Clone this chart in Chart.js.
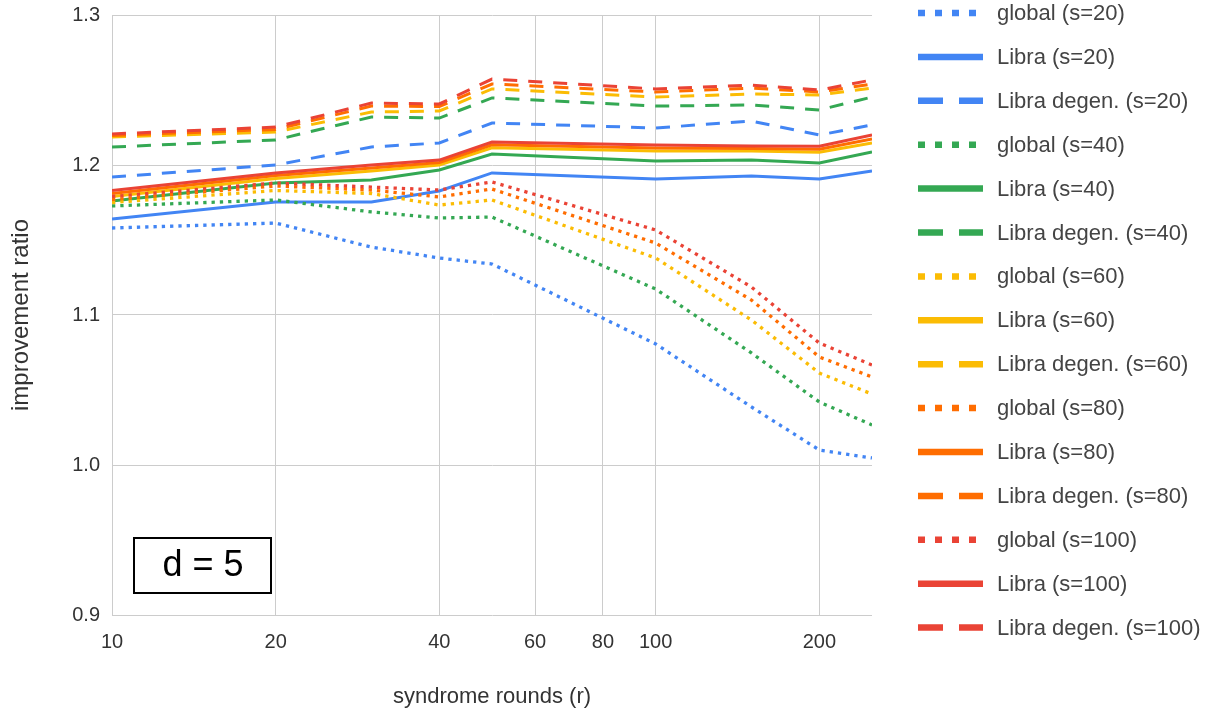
<!DOCTYPE html>
<html>
<head>
<meta charset="utf-8">
<script src="https://cdn.jsdelivr.net/npm/chart.js@4.4.1/dist/chart.umd.min.js"></script>
<style>
  body { margin: 0; background: #fff; }
</style>
</head>
<body>
<canvas id="graph" width="1215" height="714"></canvas>
<script>
const rounds = [10, 20, 30, 40, 50, 100, 150, 200, 250]
const xTicks = [10, 20, 40, 60, 80, 100, 200]

const globalS20 = [1.158, 1.1613, 1.1453, 1.138, 1.1340, 1.0807, 1.0387, 1.010, 1.0047]
const libraS20 = [1.164, 1.1753, 1.1753, 1.1827, 1.1947, 1.1907, 1.1927, 1.1907, 1.196]
const degenS20 = [1.192, 1.200, 1.212, 1.2147, 1.228, 1.2247, 1.2293, 1.220, 1.2267]

const globalS40 = [1.1727, 1.1767, 1.1687, 1.1647, 1.1653, 1.1173, 1.0747, 1.042, 1.0267]
const libraS40 = [1.176, 1.188, 1.190, 1.1967, 1.2073, 1.2027, 1.2033, 1.2013, 1.2087]
const degenS40 = [1.212, 1.2167, 1.232, 1.2313, 1.2447, 1.2393, 1.240, 1.2367, 1.2453]

const globalS60 = [1.175, 1.183, 1.181, 1.1733, 1.1767, 1.138, 1.0967, 1.0613, 1.0473]
const libraS60 = [1.179, 1.191, 1.196, 1.200, 1.2115, 1.2093, 1.2093, 1.2085, 1.2147]
const degenS60 = [1.2187, 1.222, 1.2353, 1.236, 1.2507, 1.2453, 1.2473, 1.2467, 1.2513]

const globalS80 = [1.177, 1.186, 1.1833, 1.1787, 1.184, 1.148, 1.110, 1.072, 1.0587]
const libraS80 = [1.181, 1.193, 1.198, 1.2017, 1.2135, 1.2113, 1.211, 1.2105, 1.2173]
const degenS80 = [1.2197, 1.2237, 1.2393, 1.239, 1.254, 1.2487, 1.2513, 1.2487, 1.254]

const globalS100 = [1.179, 1.188, 1.1853, 1.1833, 1.1887, 1.1567, 1.1187, 1.0813, 1.0667]
const libraS100 = [1.183, 1.1947, 1.200, 1.2033, 1.2153, 1.2133, 1.2127, 1.2125, 1.220]
const degenS100 = [1.2207, 1.2253, 1.2413, 1.2407, 1.2573, 1.2507, 1.2533, 1.250, 1.2567]

const seriesNames = [
    "global (s=20)", "Libra (s=20)", "Libra degen. (s=20)",
    "global (s=40)", "Libra (s=40)", "Libra degen. (s=40)",
    "global (s=60)", "Libra (s=60)", "Libra degen. (s=60)",
    "global (s=80)", "Libra (s=80)", "Libra degen. (s=80)",
    "global (s=100)", "Libra (s=100)", "Libra degen. (s=100)"
]
const seriesValues = [
    globalS20, libraS20, degenS20,
    globalS40, libraS40, degenS40,
    globalS60, libraS60, degenS60,
    globalS80, libraS80, degenS80,
    globalS100, libraS100, degenS100
]
const colors = ["#4285f4", "#34a853", "#fbbc04", "#ff6d01", "#ea4335"]

const font = "'Liberation Sans', Arial, sans-serif"

// line style per kind: dotted, solid, dashed
const lineDash = [[3.3, 5], [], [14, 11]]
const legendDash = [[7, 10], [], [25, 16]]

let donnee = []
for (let i = 0; i < seriesValues.length; i++) {
    let kind = i % 3
    let pts = []
    for (let j = 0; j < rounds.length; j++) {
        pts.push({ x: rounds[j], y: seriesValues[i][j] })
    }
    donnee.push({
        label: seriesNames[i],
        data: pts,
        borderColor: colors[Math.floor(i / 3)],
        backgroundColor: colors[Math.floor(i / 3)],
        borderWidth: kind == 0 ? 3.3 : 3,
        borderDash: lineDash[kind],
        pointRadius: 0,
        tension: 0,
        fill: false,
        order: -i,
        kind: kind
    })
}

const extras = {
    id: "extras",
    afterDraw(chart) {
        const ctx = chart.ctx
        const area = chart.chartArea
        ctx.save()

        // legend
        ctx.font = "22px " + font
        ctx.textBaseline = "middle"
        ctx.textAlign = "left"
        chart.data.datasets.forEach((ds, i) => {
            let y = 13 + 43.9 * i
            ctx.strokeStyle = ds.borderColor
            ctx.lineWidth = 6.5
            ctx.lineCap = "butt"
            ctx.setLineDash(legendDash[ds.kind])
            ctx.beginPath()
            ctx.moveTo(area.right + 46, y)
            ctx.lineTo(area.right + 111, y)
            ctx.stroke()
            ctx.setLineDash([])
            ctx.fillStyle = "#444"
            ctx.fillText(ds.label, area.right + 125, y + 1)
        })

        // d = 5 box
        ctx.lineWidth = 2
        ctx.strokeStyle = "#000"
        ctx.strokeRect(area.left + 22, area.bottom - 77, 137, 55)
        ctx.fillStyle = "#000"
        ctx.font = "36px " + font
        ctx.textAlign = "center"
        ctx.fillText("d = 5", area.left + 91, area.bottom - 49)
        ctx.restore()
    }
}

const config = {
    type: "line",
    data: { datasets: donnee },
    options: {
        responsive: false,
        animation: false,
        layout: { padding: { top: 15, right: 343, left: 0, bottom: 0 } },
        plugins: {
            legend: { display: false },
            tooltip: { enabled: false }
        },
        scales: {
            x: {
                type: "logarithmic",
                min: 10,
                max: 250,
                afterBuildTicks: (scale) => {
                    scale.ticks = xTicks.map(v => ({ value: v }))
                },
                afterFit: (scale) => {
                    scale.height = 99
                    scale.paddingLeft = 0
                    scale.paddingRight = 0
                },
                grid: { color: "#cccccc", drawTicks: false },
                border: { display: false },
                ticks: {
                    autoSkip: false,
                    maxRotation: 0,
                    padding: 15,
                    color: "#333",
                    font: { family: font, size: 20 },
                    callback: (v) => String(v)
                },
                title: {
                    display: true,
                    text: "syndrome rounds (r)",
                    color: "#333",
                    font: { family: font, size: 22 },
                    padding: { top: 0, bottom: 4 }
                }
            },
            y: {
                min: 0.9,
                max: 1.3,
                afterFit: (scale) => {
                    scale.width = 112
                    scale.paddingTop = 0
                    scale.paddingBottom = 0
                },
                grid: { color: "#cccccc", drawTicks: false },
                border: { color: "#cccccc" },
                ticks: {
                    stepSize: 0.1,
                    padding: 12,
                    color: "#333",
                    font: { family: font, size: 20 },
                    callback: (v) => v.toFixed(1)
                },
                title: {
                    display: true,
                    text: "improvement ratio",
                    color: "#333",
                    font: { family: font, size: 24 },
                    padding: { top: 7, bottom: 0 }
                }
            }
        }
    },
    plugins: [extras]
}

let graph = document.getElementById("graph").getContext("2d")
const chartRatio = new Chart(graph, config)
</script>
</body>
</html>
